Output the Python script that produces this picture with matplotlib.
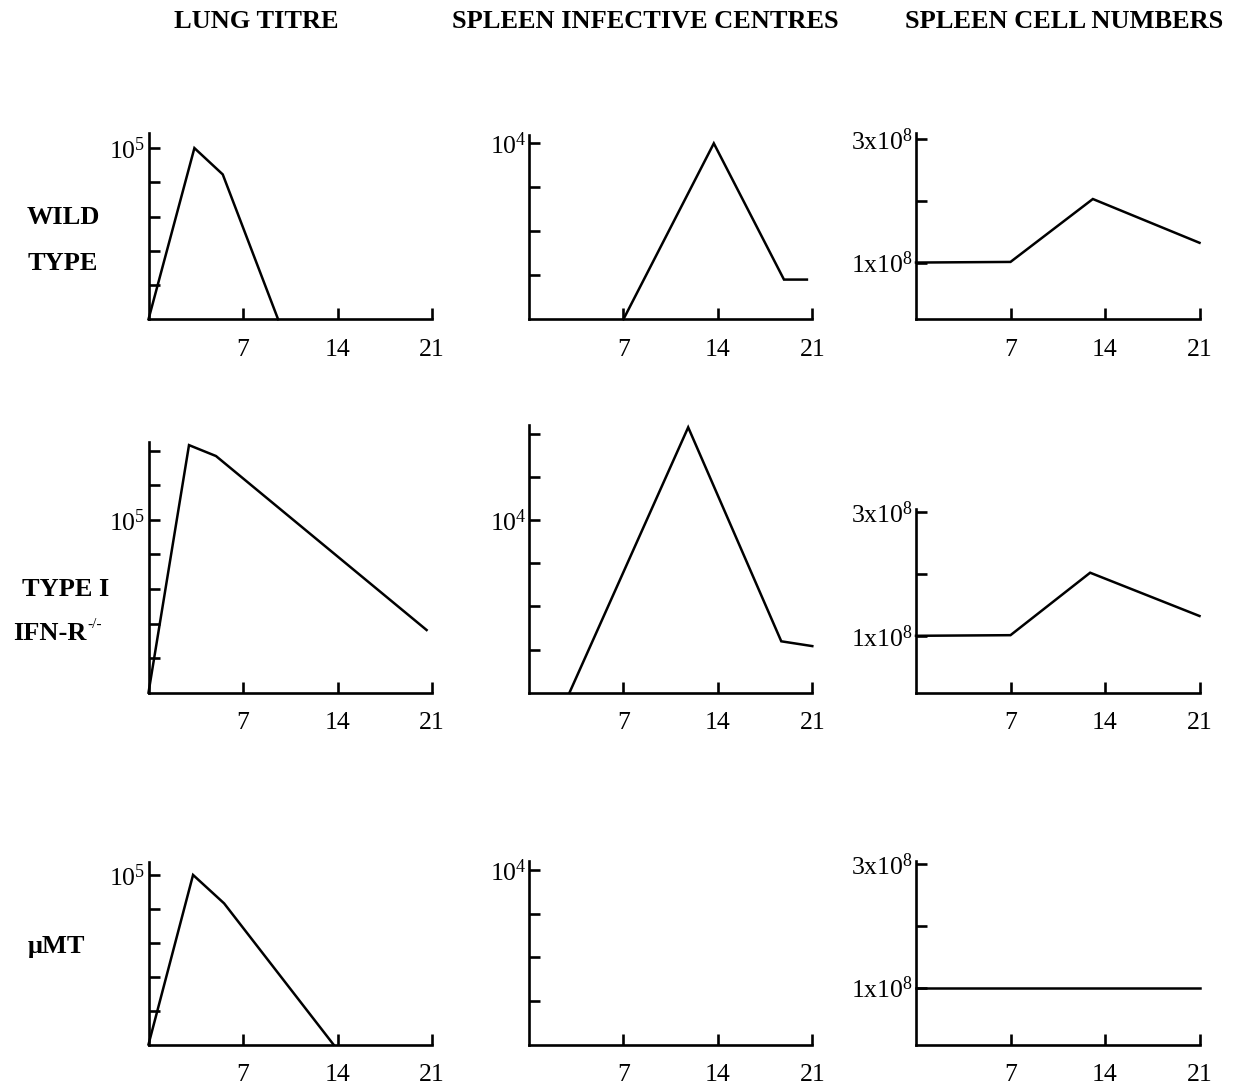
import matplotlib
matplotlib.use("Agg")
import matplotlib.pyplot as plt

plt.rcParams['font.family'] = ['Liberation Serif', 'DejaVu Serif']
plt.rcParams['mathtext.fontset'] = 'custom'
plt.rcParams['mathtext.rm'] = 'Liberation Serif'
plt.rcParams['mathtext.it'] = 'Liberation Serif:italic'
plt.rcParams['mathtext.bf'] = 'Liberation Serif:bold'

# ---- data (days post infection) ----
column_titles = ["LUNG TITRE", "SPLEEN INFECTIVE CENTRES", "SPLEEN CELL NUMBERS"]
row_labels = [["WILD", "TYPE"], ["TYPE I", "IFN-R"], ["\u03bcMT"]]
knockout_superscript = "-/-"
day_ticks = [7, 14, 21]

# lung virus titre (1 = below detection)
wt_lung_days = [0, 3.4, 5.5, 9.6]
wt_lung_titre = [1, 1e5, 1.7e4, 1]
ifnr_lung_days = [0, 3.0, 5.0, 20.6]
ifnr_lung_titre = [1, 1.45e7, 7.0e6, 65]
umt_lung_days = [0, 3.3, 5.6, 13.7]
umt_lung_titre = [1, 1e5, 1.45e4, 1]

# spleen infective centres
wt_ic_days = [7, 13.7, 18.9, 20.6]
wt_ic_values = [1, 1e4, 8, 8]
ifnr_ic_days = [3.0, 11.8, 18.7, 21.0]
ifnr_ic_values = [1, 1.4e6, 15.5, 12]
umt_ic_days = []
umt_ic_values = []

# spleen cell numbers
wt_cells_days = [0, 7, 13.1, 21]
wt_cells = [1.0e8, 1.01e8, 2.03e8, 1.32e8]
ifnr_cells_days = [0, 7, 12.9, 21]
ifnr_cells = [1.0e8, 1.01e8, 2.02e8, 1.32e8]
umt_cells_days = [0, 21]
umt_cells = [1.0e8, 1.0e8]

# log-axis tick decades and which one is labelled
lung_decades = [[1, 2, 3, 4, 5], [1, 2, 3, 4, 5, 6, 7], [1, 2, 3, 4, 5]]
lung_label_decade = 5
ic_decades = [[1, 2, 3, 4], [1, 2, 3, 4, 5, 6], [1, 2, 3, 4]]
ic_label_decade = 4
cell_ticks = [1e8, 2e8, 3e8]
cell_tick_labels = ["1x10$^{8}$", "", "3x10$^{8}$"]

# ---- layout (pixels) ----
W, H, DPI = 1235, 1089, 100
fig = plt.figure(figsize=(W / DPI, H / DPI), dpi=DPI)
fig.patch.set_facecolor("white")

col_x = [(148.5, 432.0), (529.0, 812.3), (916.0, 1199.5)]
row_base = [319.3, 692.7, 1044.5]
tops = [[133, 135, 133], [441.7, 425, 509], [861.7, 860.7, 860.7]]
# upper limits (log10 for log panels, cells for linear)
lung_top = [5.44, 7.26, 5.39]
ic_top = [4.19, 6.2, 4.21]
cell_top = [3.1e8, 3.05e8, 3.05e8]
cell_bottom = 0.08e8

LW_AX = 1.9
LW_LINE = 1.8
TICK_LEN = 8.0
FS_TICK = 18.5
FS_HEAD = 19


def make_axes(col, row):
    x0, x1 = col_x[col]
    yb, yt = row_base[row], tops[row][col]
    ax = fig.add_axes([x0 / W, 1 - yb / H, (x1 - x0) / W, (yb - yt) / H])
    ax.set_facecolor("none")
    for s in ("top", "right"):
        ax.spines[s].set_visible(False)
    for s in ("left", "bottom"):
        ax.spines[s].set_linewidth(LW_AX)
        ax.spines[s].set_color("black")
    ax.set_xlim(0, 21)
    ax.set_xticks(day_ticks)
    ax.set_xticklabels([str(d) for d in day_ticks])
    ax.tick_params(axis="x", direction="in", length=TICK_LEN, width=LW_AX,
                   pad=14, labelsize=FS_TICK)
    ax.tick_params(axis="y", direction="in", length=TICK_LEN, width=LW_AX,
                   pad=2, labelsize=FS_TICK)
    ax.minorticks_off()
    return ax


lung_sets = [(wt_lung_days, wt_lung_titre), (ifnr_lung_days, ifnr_lung_titre),
             (umt_lung_days, umt_lung_titre)]
ic_sets = [(wt_ic_days, wt_ic_values), (ifnr_ic_days, ifnr_ic_values),
           (umt_ic_days, umt_ic_values)]
cell_sets = [(wt_cells_days, wt_cells), (ifnr_cells_days, ifnr_cells),
             (umt_cells_days, umt_cells)]

for r in range(3):
    # lung titre
    ax = make_axes(0, r)
    ax.set_yscale("log")
    ax.set_ylim(1, 10 ** lung_top[r])
    dec = lung_decades[r]
    ax.set_yticks([10.0 ** d for d in dec])
    ax.set_yticklabels(["10$^{%d}$" % d if d == lung_label_decade else "" for d in dec])
    ax.minorticks_off()
    d, v = lung_sets[r]
    ax.plot(d, v, color="black", lw=LW_LINE, clip_on=False, solid_joinstyle="miter")

    # spleen infective centres
    ax = make_axes(1, r)
    ax.set_yscale("log")
    ax.set_ylim(1, 10 ** ic_top[r])
    dec = ic_decades[r]
    ax.set_yticks([10.0 ** d for d in dec])
    ax.set_yticklabels(["10$^{%d}$" % d if d == ic_label_decade else "" for d in dec])
    ax.minorticks_off()
    d, v = ic_sets[r]
    if d:
        ax.plot(d, v, color="black", lw=LW_LINE, clip_on=False, solid_joinstyle="miter")

    # spleen cell numbers
    ax = make_axes(2, r)
    ax.set_ylim(cell_bottom, cell_top[r])
    ax.set_yticks(cell_ticks)
    ax.set_yticklabels(cell_tick_labels)
    d, v = cell_sets[r]
    ax.plot(d, v, color="black", lw=LW_LINE, clip_on=False, solid_joinstyle="miter")

# column headings
head_x = [256, 645, 1064]
for t, x in zip(column_titles, head_x):
    fig.text(x / W, 1 - 22 / H, t, ha="center", va="center",
             fontsize=FS_HEAD, fontweight="bold")

# row headings
fig.text(63 / W, 1 - 217 / H, row_labels[0][0], ha="center", va="center",
         fontsize=FS_HEAD, fontweight="bold")
fig.text(63 / W, 1 - 264 / H, row_labels[0][1], ha="center", va="center",
         fontsize=FS_HEAD, fontweight="bold")
fig.text(66 / W, 1 - 590 / H, row_labels[1][0], ha="center", va="center",
         fontsize=FS_HEAD, fontweight="bold")
fig.text(86 / W, 1 - 633 / H, row_labels[1][1], ha="right", va="center",
         fontsize=FS_HEAD, fontweight="bold")
fig.text(87 / W, 1 - 624 / H, knockout_superscript, ha="left", va="center",
         fontsize=11)
fig.text(56 / W, 1 - 946 / H, row_labels[2][0], ha="center", va="center",
         fontsize=FS_HEAD, fontweight="bold")

fig.savefig("out.png", dpi=DPI, facecolor="white")
